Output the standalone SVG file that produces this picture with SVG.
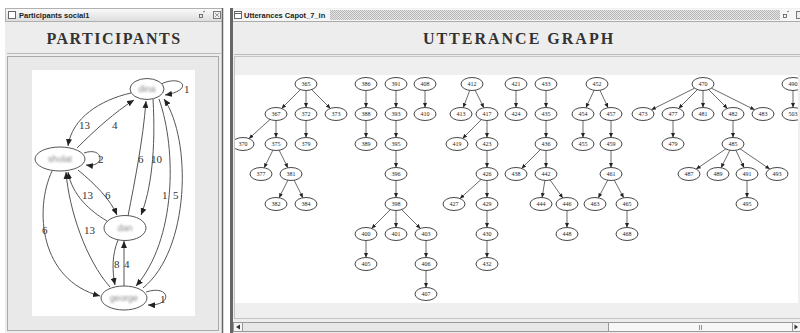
<svg xmlns="http://www.w3.org/2000/svg" width="800" height="333" viewBox="0 0 800 333">
<style>
.ttl{font-family:"Liberation Serif",serif;font-weight:bold;font-size:16px;fill:#333;text-anchor:middle}
.wt{font-family:"Liberation Sans",Arial,sans-serif;font-weight:bold;font-size:7.5px;fill:#222}
.pn{fill:#fff;stroke:#555;stroke-width:1}
.pl{font-family:"Liberation Sans",sans-serif;font-size:9px;fill:#888;text-anchor:middle;filter:url(#blur)}
.pe{fill:none;stroke:#555;stroke-width:1;marker-end:url(#ah)}
.el{font-family:"Liberation Serif",serif;font-size:11px;fill:#333}
.un{fill:#fff;stroke:#333;stroke-width:0.9}
.ut{font-family:"Liberation Serif",serif;font-size:6px;fill:#222;text-anchor:middle}
.ue{fill:none;stroke:#444;stroke-width:0.8;marker-end:url(#sa)}
</style>
<defs>
<filter id="blur" x="-20%" y="-50%" width="140%" height="200%"><feGaussianBlur stdDeviation="1.2"/></filter>
<marker id="ah" markerUnits="userSpaceOnUse" markerWidth="8" markerHeight="6" refX="7" refY="3" orient="auto" viewBox="0 0 8 6"><path d="M0,0 L7,3 L0,6 z" fill="#222"/></marker>
<marker id="sa" markerUnits="userSpaceOnUse" markerWidth="5" markerHeight="4" refX="4.5" refY="2" orient="auto" viewBox="0 0 5 4"><path d="M0,0 L4.5,2 L0,4 z" fill="#222"/></marker>
<linearGradient id="tb" x1="0" y1="0" x2="0" y2="1"><stop offset="0" stop-color="#fbfbfb"/><stop offset="1" stop-color="#dcdcdc"/></linearGradient>
<pattern id="chk" width="2" height="2" patternUnits="userSpaceOnUse"><rect width="2" height="2" fill="#e4e4e4"/><rect width="1" height="1" fill="#b8b8b8"/><rect x="1" y="1" width="1" height="1" fill="#b8b8b8"/></pattern>
<clipPath id="gclip"><rect x="235" y="75" width="563" height="228"/></clipPath>
</defs>
<rect width="800" height="333" fill="#fff"/>

<!-- Left window -->
<g id="participants-window">
<rect x="5" y="8" width="218" height="325" fill="#ededed"/>
<rect x="5.5" y="8.5" width="217" height="13" fill="url(#tb)" stroke="#b0b0b0"/>
<rect x="8.5" y="11.5" width="7" height="7" fill="#fff" stroke="#666"/>
<text class="wt" x="19" y="18">Participants social1</text>
<rect x="199.5" y="14.5" width="3" height="3" fill="none" stroke="#555" stroke-width="0.8"/>
<path d="M203,12 L205,11" stroke="#555" stroke-width="0.8"/>
<rect x="213.5" y="11.5" width="7" height="7" fill="#eee" stroke="#777"/>
<path d="M215,13 L219,17 M219,13 L215,17" stroke="#777" stroke-width="0.7"/>
<line x1="222.5" y1="8" x2="222.5" y2="333" stroke="#666" stroke-width="1.5"/>
<text class="ttl" x="114" y="44" letter-spacing="1.5">PARTICIPANTS</text>
<line x1="7" y1="53.5" x2="221" y2="53.5" stroke="#bbb"/>
<rect x="7.5" y="56.5" width="211" height="274" fill="#e9e9e9" stroke="#aaa"/>
<rect x="32" y="70" width="163" height="246" fill="#fff"/>
</g>

<g id="participant-edges">
<path class="pe" d="M161,84 C182,74 195,90 165,95"/>
<path class="pe" d="M131,93 C100,100 72,118 68,146"/>
<path class="pe" d="M77,148 C95,130 115,112 134,100"/>
<path class="pe" d="M84,153 C104,146 106,168 86,165"/>
<path class="pe" d="M128,216 C135,180 143,140 146,101"/>
<path class="pe" d="M153,99 C156,150 151,190 141,215"/>
<path class="pe" d="M159,99 C177,150 176,240 136,286"/>
<path class="pe" d="M143,288 C190,250 192,140 164,99"/>
<path class="pe" d="M78,170 C95,184 110,199 117,215"/>
<path class="pe" d="M107,221 C90,211 72,195 68,172"/>
<path class="pe" d="M52,171 C34,210 40,280 100,296"/>
<path class="pe" d="M110,287 C86,260 69,210 66,172"/>
<path class="pe" d="M118,240 C112,255 112,270 115,285"/>
<path class="pe" d="M124,286 L124,241"/>
<path class="pe" d="M146,292 C170,284 174,306 148,305"/>
<text class="el" x="184" y="93">1</text>
<text class="el" x="79" y="129">13</text>
<text class="el" x="112" y="129">4</text>
<text class="el" x="98" y="163">2</text>
<text class="el" x="138" y="163">6</text>
<text class="el" x="151" y="163">10</text>
<text class="el" x="162" y="199">1</text>
<text class="el" x="173" y="199">5</text>
<text class="el" x="105" y="199">6</text>
<text class="el" x="82" y="199">13</text>
<text class="el" x="42" y="234">6</text>
<text class="el" x="84" y="234">13</text>
<text class="el" x="114" y="268">8</text>
<text class="el" x="124" y="268">4</text>
<text class="el" x="160" y="303">1</text>
</g>

<g id="p-dina"><ellipse class="pn" cx="147" cy="89" rx="17" ry="10.5"/><text class="pl" x="147" y="92">dina</text></g>
<g id="p-sholat"><ellipse class="pn" cx="60" cy="159" rx="25" ry="12"/><text class="pl" x="60" y="162">sholat</text></g>
<g id="p-dan"><ellipse class="pn" cx="125" cy="228" rx="21" ry="12.5"/><text class="pl" x="125" y="231">dan</text></g>
<g id="p-george"><ellipse class="pn" cx="124" cy="298" rx="23" ry="12"/><text class="pl" x="124" y="301">george</text></g>

<!-- Right window -->
<g id="utterances-window">
<rect x="233" y="8" width="567" height="325" fill="#ededed"/>
<rect x="230" y="8" width="3" height="325" fill="#666"/>
<rect x="233" y="8.5" width="567" height="13" fill="#f6f6f6"/>
<rect x="330" y="10" width="450" height="10" fill="url(#chk)"/>
<line x1="233" y1="21.5" x2="800" y2="21.5" stroke="#aaa"/>
<rect x="234.5" y="11.5" width="7" height="7" fill="#fff" stroke="#666"/>
<line x1="234.5" y1="13.5" x2="241.5" y2="13.5" stroke="#666"/>
<text class="wt" x="244" y="18">Utterances Capot_7_in</text>
<rect x="783.5" y="14.5" width="3" height="3" fill="none" stroke="#555" stroke-width="0.8"/>
<path d="M787,12 L789,11" stroke="#555" stroke-width="0.8"/>
<rect x="796.5" y="11.5" width="7" height="7" fill="#eee" stroke="#777"/>
<text class="ttl" x="519" y="44" letter-spacing="2">UTTERANCE GRAPH</text>
<line x1="234" y1="54.5" x2="800" y2="54.5" stroke="#bbb"/>
<rect x="234.5" y="56.5" width="570" height="262" fill="#efefef" stroke="#c4c4c4"/>
<rect x="235" y="75" width="563" height="228" fill="#fff"/>
<rect x="233.5" y="322.5" width="570" height="9" fill="#e8e8e8" stroke="#999"/>
<rect x="233.5" y="322.5" width="9" height="9" fill="#f4f4f4" stroke="#999"/>
<path d="M236,327 L240,324.5 L240,329.5 z" fill="#333"/>
<rect x="608.5" y="322.5" width="184" height="9" fill="#f7f7f7" stroke="#999"/>
<path d="M699.5,325 V330 M701.5,325 V330" stroke="#777" stroke-width="0.8"/>
<rect x="792.5" y="322.5" width="9" height="9" fill="#f4f4f4" stroke="#999"/>
<path d="M798,327 L794.5,324.5 L794.5,329.5 z" fill="#333"/>
</g>

<g clip-path="url(#gclip)">
<g id="utterance-edges">
<path class="ue" d="M300.4,89.6 L281.6,108.4"/>
<path class="ue" d="M306,90.5 L306,107.5"/>
<path class="ue" d="M311.6,89.6 L330.4,108.4"/>
<path class="ue" d="M270,119.5 L249,138.5"/>
<path class="ue" d="M276,120.5 L276,137.5"/>
<path class="ue" d="M306,120.5 L306,137.5"/>
<path class="ue" d="M272.9,150.2 L264.1,167.8"/>
<path class="ue" d="M279.1,150.2 L287.9,167.8"/>
<path class="ue" d="M287.9,180.2 L279.1,197.8"/>
<path class="ue" d="M294.1,180.2 L302.9,197.8"/>
<path class="ue" d="M366,90.5 L366,107.5"/>
<path class="ue" d="M366,120.5 L366,137.5"/>
<path class="ue" d="M396,90.5 L396,107.5"/>
<path class="ue" d="M396,120.5 L396,137.5"/>
<path class="ue" d="M396,150.5 L396,167.5"/>
<path class="ue" d="M396,180.5 L396,197.5"/>
<path class="ue" d="M390.4,209.6 L371.6,228.4"/>
<path class="ue" d="M396,210.5 L396,227.5"/>
<path class="ue" d="M401.6,209.6 L420.4,228.4"/>
<path class="ue" d="M366,240.5 L366,257.5"/>
<path class="ue" d="M426,240.5 L426,257.5"/>
<path class="ue" d="M426,270.5 L426,287.5"/>
<path class="ue" d="M425,90.5 L425,107.5"/>
<path class="ue" d="M469.7,90.4 L463.3,107.6"/>
<path class="ue" d="M475.1,90.2 L483.9,107.8"/>
<path class="ue" d="M481.4,119.6 L462.6,138.4"/>
<path class="ue" d="M487,120.5 L487,137.5"/>
<path class="ue" d="M487,150.5 L487,167.5"/>
<path class="ue" d="M481,179.5 L460,198.5"/>
<path class="ue" d="M487,180.5 L487,197.5"/>
<path class="ue" d="M487,210.5 L487,227.5"/>
<path class="ue" d="M487,240.5 L487,257.5"/>
<path class="ue" d="M516,90.5 L516,107.5"/>
<path class="ue" d="M546,90.5 L546,107.5"/>
<path class="ue" d="M546,120.5 L546,137.5"/>
<path class="ue" d="M540.4,149.6 L521.6,168.4"/>
<path class="ue" d="M546,150.5 L546,167.5"/>
<path class="ue" d="M544.9,180.5 L542.1,197.5"/>
<path class="ue" d="M550.2,180 L562.8,198"/>
<path class="ue" d="M567,210.5 L567,227.5"/>
<path class="ue" d="M594.1,90.3 L585.9,107.7"/>
<path class="ue" d="M599.9,90.3 L608.1,107.7"/>
<path class="ue" d="M583,120.5 L583,137.5"/>
<path class="ue" d="M611,120.5 L611,137.5"/>
<path class="ue" d="M611,150.5 L611,167.5"/>
<path class="ue" d="M607.7,180.2 L598.3,197.8"/>
<path class="ue" d="M614.3,180.2 L623.7,197.8"/>
<path class="ue" d="M627,210.5 L627,227.5"/>
<path class="ue" d="M694.6,88.2 L651.4,109.8"/>
<path class="ue" d="M697.4,89.6 L678.6,108.4"/>
<path class="ue" d="M703,90.5 L703,107.5"/>
<path class="ue" d="M708.6,89.6 L727.4,108.4"/>
<path class="ue" d="M711.4,88.2 L754.6,109.8"/>
<path class="ue" d="M673,120.5 L673,137.5"/>
<path class="ue" d="M733,120.5 L733,137.5"/>
<path class="ue" d="M725.8,148.9 L696.2,169.1"/>
<path class="ue" d="M729.9,150.2 L721.1,167.8"/>
<path class="ue" d="M735.9,150.3 L744.1,167.7"/>
<path class="ue" d="M740.2,148.9 L769.8,169.1"/>
<path class="ue" d="M747,180.5 L747,197.5"/>
<path class="ue" d="M793,90.5 L793,107.5"/>
</g>

<g id="u365"><ellipse class="un" cx="306" cy="84" rx="11" ry="6.5"/><text class="ut" x="306" y="86">365</text></g>
<g id="u367"><ellipse class="un" cx="276" cy="114" rx="11" ry="6.5"/><text class="ut" x="276" y="116">367</text></g>
<g id="u372"><ellipse class="un" cx="306" cy="114" rx="11" ry="6.5"/><text class="ut" x="306" y="116">372</text></g>
<g id="u373"><ellipse class="un" cx="336" cy="114" rx="11" ry="6.5"/><text class="ut" x="336" y="116">373</text></g>
<g id="u370"><ellipse class="un" cx="243" cy="144" rx="11" ry="6.5"/><text class="ut" x="243" y="146">370</text></g>
<g id="u375"><ellipse class="un" cx="276" cy="144" rx="11" ry="6.5"/><text class="ut" x="276" y="146">375</text></g>
<g id="u379"><ellipse class="un" cx="306" cy="144" rx="11" ry="6.5"/><text class="ut" x="306" y="146">379</text></g>
<g id="u377"><ellipse class="un" cx="261" cy="174" rx="11" ry="6.5"/><text class="ut" x="261" y="176">377</text></g>
<g id="u381"><ellipse class="un" cx="291" cy="174" rx="11" ry="6.5"/><text class="ut" x="291" y="176">381</text></g>
<g id="u382"><ellipse class="un" cx="276" cy="204" rx="11" ry="6.5"/><text class="ut" x="276" y="206">382</text></g>
<g id="u384"><ellipse class="un" cx="306" cy="204" rx="11" ry="6.5"/><text class="ut" x="306" y="206">384</text></g>
<g id="u386"><ellipse class="un" cx="366" cy="84" rx="11" ry="6.5"/><text class="ut" x="366" y="86">386</text></g>
<g id="u388"><ellipse class="un" cx="366" cy="114" rx="11" ry="6.5"/><text class="ut" x="366" y="116">388</text></g>
<g id="u389"><ellipse class="un" cx="366" cy="144" rx="11" ry="6.5"/><text class="ut" x="366" y="146">389</text></g>
<g id="u391"><ellipse class="un" cx="396" cy="84" rx="11" ry="6.5"/><text class="ut" x="396" y="86">391</text></g>
<g id="u393"><ellipse class="un" cx="396" cy="114" rx="11" ry="6.5"/><text class="ut" x="396" y="116">393</text></g>
<g id="u395"><ellipse class="un" cx="396" cy="144" rx="11" ry="6.5"/><text class="ut" x="396" y="146">395</text></g>
<g id="u396"><ellipse class="un" cx="396" cy="174" rx="11" ry="6.5"/><text class="ut" x="396" y="176">396</text></g>
<g id="u398"><ellipse class="un" cx="396" cy="204" rx="11" ry="6.5"/><text class="ut" x="396" y="206">398</text></g>
<g id="u400"><ellipse class="un" cx="366" cy="234" rx="11" ry="6.5"/><text class="ut" x="366" y="236">400</text></g>
<g id="u401"><ellipse class="un" cx="396" cy="234" rx="11" ry="6.5"/><text class="ut" x="396" y="236">401</text></g>
<g id="u403"><ellipse class="un" cx="426" cy="234" rx="11" ry="6.5"/><text class="ut" x="426" y="236">403</text></g>
<g id="u405"><ellipse class="un" cx="366" cy="264" rx="11" ry="6.5"/><text class="ut" x="366" y="266">405</text></g>
<g id="u406"><ellipse class="un" cx="426" cy="264" rx="11" ry="6.5"/><text class="ut" x="426" y="266">406</text></g>
<g id="u407"><ellipse class="un" cx="426" cy="294" rx="11" ry="6.5"/><text class="ut" x="426" y="296">407</text></g>
<g id="u408"><ellipse class="un" cx="425" cy="84" rx="11" ry="6.5"/><text class="ut" x="425" y="86">408</text></g>
<g id="u410"><ellipse class="un" cx="425" cy="114" rx="11" ry="6.5"/><text class="ut" x="425" y="116">410</text></g>
<g id="u412"><ellipse class="un" cx="472" cy="84" rx="11" ry="6.5"/><text class="ut" x="472" y="86">412</text></g>
<g id="u413"><ellipse class="un" cx="461" cy="114" rx="11" ry="6.5"/><text class="ut" x="461" y="116">413</text></g>
<g id="u417"><ellipse class="un" cx="487" cy="114" rx="11" ry="6.5"/><text class="ut" x="487" y="116">417</text></g>
<g id="u419"><ellipse class="un" cx="457" cy="144" rx="11" ry="6.5"/><text class="ut" x="457" y="146">419</text></g>
<g id="u423"><ellipse class="un" cx="487" cy="144" rx="11" ry="6.5"/><text class="ut" x="487" y="146">423</text></g>
<g id="u426"><ellipse class="un" cx="487" cy="174" rx="11" ry="6.5"/><text class="ut" x="487" y="176">426</text></g>
<g id="u427"><ellipse class="un" cx="454" cy="204" rx="11" ry="6.5"/><text class="ut" x="454" y="206">427</text></g>
<g id="u429"><ellipse class="un" cx="487" cy="204" rx="11" ry="6.5"/><text class="ut" x="487" y="206">429</text></g>
<g id="u430"><ellipse class="un" cx="487" cy="234" rx="11" ry="6.5"/><text class="ut" x="487" y="236">430</text></g>
<g id="u432"><ellipse class="un" cx="487" cy="264" rx="11" ry="6.5"/><text class="ut" x="487" y="266">432</text></g>
<g id="u421"><ellipse class="un" cx="516" cy="84" rx="11" ry="6.5"/><text class="ut" x="516" y="86">421</text></g>
<g id="u424"><ellipse class="un" cx="516" cy="114" rx="11" ry="6.5"/><text class="ut" x="516" y="116">424</text></g>
<g id="u433"><ellipse class="un" cx="546" cy="84" rx="11" ry="6.5"/><text class="ut" x="546" y="86">433</text></g>
<g id="u435"><ellipse class="un" cx="546" cy="114" rx="11" ry="6.5"/><text class="ut" x="546" y="116">435</text></g>
<g id="u436"><ellipse class="un" cx="546" cy="144" rx="11" ry="6.5"/><text class="ut" x="546" y="146">436</text></g>
<g id="u438"><ellipse class="un" cx="516" cy="174" rx="11" ry="6.5"/><text class="ut" x="516" y="176">438</text></g>
<g id="u442"><ellipse class="un" cx="546" cy="174" rx="11" ry="6.5"/><text class="ut" x="546" y="176">442</text></g>
<g id="u444"><ellipse class="un" cx="541" cy="204" rx="11" ry="6.5"/><text class="ut" x="541" y="206">444</text></g>
<g id="u446"><ellipse class="un" cx="567" cy="204" rx="11" ry="6.5"/><text class="ut" x="567" y="206">446</text></g>
<g id="u448"><ellipse class="un" cx="567" cy="234" rx="11" ry="6.5"/><text class="ut" x="567" y="236">448</text></g>
<g id="u452"><ellipse class="un" cx="597" cy="84" rx="11" ry="6.5"/><text class="ut" x="597" y="86">452</text></g>
<g id="u454"><ellipse class="un" cx="583" cy="114" rx="11" ry="6.5"/><text class="ut" x="583" y="116">454</text></g>
<g id="u457"><ellipse class="un" cx="611" cy="114" rx="11" ry="6.5"/><text class="ut" x="611" y="116">457</text></g>
<g id="u455"><ellipse class="un" cx="583" cy="144" rx="11" ry="6.5"/><text class="ut" x="583" y="146">455</text></g>
<g id="u459"><ellipse class="un" cx="611" cy="144" rx="11" ry="6.5"/><text class="ut" x="611" y="146">459</text></g>
<g id="u461"><ellipse class="un" cx="611" cy="174" rx="11" ry="6.5"/><text class="ut" x="611" y="176">461</text></g>
<g id="u463"><ellipse class="un" cx="595" cy="204" rx="11" ry="6.5"/><text class="ut" x="595" y="206">463</text></g>
<g id="u465"><ellipse class="un" cx="627" cy="204" rx="11" ry="6.5"/><text class="ut" x="627" y="206">465</text></g>
<g id="u468"><ellipse class="un" cx="627" cy="234" rx="11" ry="6.5"/><text class="ut" x="627" y="236">468</text></g>
<g id="u470"><ellipse class="un" cx="703" cy="84" rx="11" ry="6.5"/><text class="ut" x="703" y="86">470</text></g>
<g id="u473"><ellipse class="un" cx="643" cy="114" rx="11" ry="6.5"/><text class="ut" x="643" y="116">473</text></g>
<g id="u477"><ellipse class="un" cx="673" cy="114" rx="11" ry="6.5"/><text class="ut" x="673" y="116">477</text></g>
<g id="u481"><ellipse class="un" cx="703" cy="114" rx="11" ry="6.5"/><text class="ut" x="703" y="116">481</text></g>
<g id="u482"><ellipse class="un" cx="733" cy="114" rx="11" ry="6.5"/><text class="ut" x="733" y="116">482</text></g>
<g id="u483"><ellipse class="un" cx="763" cy="114" rx="11" ry="6.5"/><text class="ut" x="763" y="116">483</text></g>
<g id="u479"><ellipse class="un" cx="673" cy="144" rx="11" ry="6.5"/><text class="ut" x="673" y="146">479</text></g>
<g id="u485"><ellipse class="un" cx="733" cy="144" rx="11" ry="6.5"/><text class="ut" x="733" y="146">485</text></g>
<g id="u487"><ellipse class="un" cx="689" cy="174" rx="11" ry="6.5"/><text class="ut" x="689" y="176">487</text></g>
<g id="u489"><ellipse class="un" cx="718" cy="174" rx="11" ry="6.5"/><text class="ut" x="718" y="176">489</text></g>
<g id="u491"><ellipse class="un" cx="747" cy="174" rx="11" ry="6.5"/><text class="ut" x="747" y="176">491</text></g>
<g id="u493"><ellipse class="un" cx="777" cy="174" rx="11" ry="6.5"/><text class="ut" x="777" y="176">493</text></g>
<g id="u495"><ellipse class="un" cx="747" cy="204" rx="11" ry="6.5"/><text class="ut" x="747" y="206">495</text></g>
<g id="u490"><ellipse class="un" cx="793" cy="84" rx="11" ry="6.5"/><text class="ut" x="793" y="86">490</text></g>
<g id="u503"><ellipse class="un" cx="793" cy="114" rx="11" ry="6.5"/><text class="ut" x="793" y="116">503</text></g>
</g>
</svg>
